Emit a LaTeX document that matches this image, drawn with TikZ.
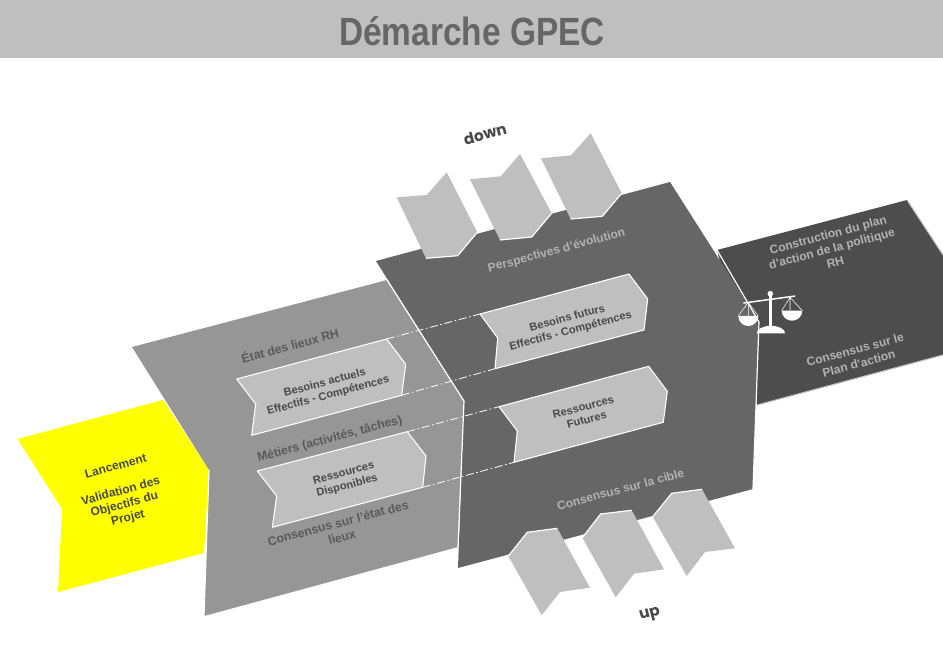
\documentclass[tikz,border=0pt]{standalone}
\usepackage{fontspec}
\setmainfont{Liberation Sans}
\newfontfamily\titlefont[FakeStretch=0.85]{Liberation Sans}
\newfontfamily\updownfont{Poppins}
\usepackage{xcolor}
\usetikzlibrary{positioning}
\definecolor{bandgray}{RGB}{191,191,191}
\definecolor{midgray}{RGB}{150,150,150}
\definecolor{darkgray}{RGB}{102,102,102}
\definecolor{deepgray}{RGB}{77,77,77}
\definecolor{inkgray}{RGB}{72,72,72}
\definecolor{midink}{RGB}{89,89,89}
\definecolor{lablight}{RGB}{179,179,179}
\definecolor{startyellow}{RGB}{255,255,0}

\begin{document}
\begin{tikzpicture}[x=0.75pt,y=-0.75pt,font=\bfseries\fontsize{8.3}{9.8}\selectfont,
  tab/.style={fill=bandgray},
  panel/.style={fill=bandgray,draw=white,line width=0.8pt,line join=round},
  edge/.style={draw=white,line width=0.9pt,line join=round},
  link/.style={draw=white,line width=0.6pt,dash pattern=on 6pt off 2pt on 1.2pt off 2pt},
  lab/.style={align=center,rotate=15,inner sep=0pt},
  onpanel/.style={lab,text=inkgray},
  onstart/.style={lab,text=inkgray,font=\bfseries\fontsize{9}{10.4}\selectfont},
  onmid/.style={lab,text=midink,font=\bfseries\fontsize{9.2}{10.8}\selectfont},
  ondark/.style={lab,text=lablight,font=\bfseries\fontsize{9}{10.6}\selectfont}]
\useasboundingbox (0,0) rectangle (943,652);
\fill[white] (0,0) rectangle (943,652);
% TITLE
\fill[bandgray] (0,0) rectangle (943,58);
\node[inner sep=0pt,text=darkgray,font=\titlefont\bfseries\fontsize{29.5}{33}\selectfont] (title) at (472,31) {Démarche GPEC};
% BLOCKS
\fill[deepgray] (717,250) -- (907,200) -- (943,255) -- (943,355) -- (757,405) -- cycle;
\draw[bandgray,line width=0.8pt] (907,200) -- (943,255);
\draw[bandgray,line width=0.8pt] (943,355) -- (757,405);
\fill[startyellow] (17.5,439) -- (163,400) -- (209,470) -- (204,553) -- (58,592) -- (62,509) -- cycle;
\fill[darkgray] (376,261) -- (670,182) -- (759,322) -- (753,489) -- (458,568) -- (464,401) -- cycle;
\draw[edge] (717,250) -- (759,322) -- (753,489);
\fill[midgray] (132,347) -- (387,280) -- (464,401) -- (458,547) -- (204,616) -- (209,470) -- cycle;
\draw[edge] (387,280) -- (464,401) -- (458,547);
\draw[edge] (209,470) -- (204,616);
% DOWN
\fill[tab] (396.7,197.3) -- (426.7,195) -- (446.7,172.3) -- (477.3,232.3) -- (457.7,255.7) -- (426,258.3) -- cycle;
\draw[edge] (477.3,232.3) -- (457.7,255.7) -- (426,258.3);
\fill[tab] (470,179.3) -- (500.7,176.3) -- (520,154) -- (551.7,213.3) -- (531.7,237) -- (500,240) -- cycle;
\draw[edge] (551.7,213.3) -- (531.7,237) -- (500,240);
\fill[tab] (541,158.3) -- (571,155.3) -- (590.7,133.3) -- (621.7,193.3) -- (602.3,216.3) -- (570.7,219) -- cycle;
\draw[edge] (621.7,193.3) -- (602.3,216.3) -- (570.7,219);
\node[lab,text=inkgray,font=\updownfont\bfseries\fontsize{11.5}{13}\selectfont] (down) at (485,134) {down};
% UP
\fill[tab] (508.3,556) -- (527.3,532.3) -- (557.3,528.3) -- (590,587.7) -- (560,592) -- (541.7,615.3) -- cycle;
\draw[edge] (508.3,556) -- (527.3,532.3) -- (557.3,528.3);
\fill[tab] (582.3,537.7) -- (600.7,514) -- (631.7,510.3) -- (664,569.3) -- (634,573.7) -- (615.7,597.3) -- cycle;
\draw[edge] (582.3,537.7) -- (600.7,514) -- (631.7,510.3);
\fill[tab] (652.7,516.7) -- (671.7,493.3) -- (702,489.3) -- (735,548.3) -- (705,552) -- (686.7,576) -- cycle;
\draw[edge] (652.7,516.7) -- (671.7,493.3) -- (702,489.3);
\node[lab,text=inkgray,font=\updownfont\bfseries\fontsize{11.5}{13}\selectfont] (up) at (650,615) {up};
% INNER PANELS
\draw[panel] (236.7,379) -- (386.7,339) coordinate (actTop) -- (405.7,364.3) -- (401.7,395.3) coordinate (actBot) -- (251.7,435.3) -- (255.7,404) -- cycle;
\draw[panel] (257.3,471) -- (407.3,431.7) coordinate (dispTop) -- (426,456) -- (422.7,487.3) coordinate (dispBot) -- (272.3,527.3) -- (276.7,496) -- cycle;
\draw[panel] (480,314) coordinate (futTop) -- (629,274) -- (647.7,299) -- (644,330) -- (495,368.7) coordinate (futBot) -- (497.7,338) -- cycle;
\draw[panel] (499,406.7) coordinate (resTop) -- (648.7,366.3) -- (667.3,391.3) -- (663.3,422.3) -- (514,462.3) coordinate (resBot) -- (517.3,431) -- cycle;
\draw[link] (actTop) -- (futTop);
\draw[link] (actBot) -- (futBot);
\draw[link] (dispTop) -- (resTop);
\draw[link] (dispBot) -- (resBot);
% SCALE
\begin{scope}[white]
\fill (743.3,302.3) -- (795,295.3) -- (795,296.8) -- (743.3,303.8) -- cycle;
\fill (770.3,293.7) circle[radius=2.8];
\fill (768.6,296) rectangle (772,328);
\fill (756.7,333.3) arc[start angle=180,end angle=0,x radius=14.2,y radius=-7.5] -- cycle;
\fill (738.3,316) arc[start angle=180,end angle=0,radius=10] -- cycle;
\fill (781.7,310.7) arc[start angle=180,end angle=0,x radius=10.3,y radius=10] -- cycle;
\draw[line width=0.4pt] (738.3,316) -- (748.3,302.3) -- (758.3,316) (748.3,302.3) -- (748.3,316);
\draw[line width=0.4pt] (781.7,310.7) -- (790,297.3) -- (802.3,310.7) (790,297.3) -- (790,310.7);
\end{scope}
% LABELS
\node[onstart] (lance) at (115.7,466) {Lancement};
\node[onstart] (valid) at (124.5,505) {Validation des\\Objectifs du\\Projet};
\node[onmid] (etat) at (290,345) {État des lieux RH};
\node[onpanel] (actuels) at (326.5,389.5) {Besoins actuels\\Effectifs - Compétences};
\node[onmid] (metiers) at (329.8,439.3) {Métiers (activités, tâches)};
\node[onpanel] (dispo) at (345.5,480) {Ressources\\Disponibles};
\node[onmid] (etatcons) at (340,530) {Consensus sur l’état des\\lieux};
\node[ondark] (persp) at (556.7,250.7) {Perspectives d’évolution};
\node[onpanel] (futurs) at (569,325) {Besoins futurs\\Effectifs - Compétences};
\node[onpanel] (resfut) at (585,413.3) {Ressources\\Futures};
\node[ondark] (cible) at (620.5,489.3) {Consensus sur la cible};
\node[ondark] (constr) at (831.7,248.3) {Construction du plan\\d’action de la politique\\RH};
\node[ondark] (plan) at (857,356.7) {Consensus sur le\\Plan d’action};
\end{tikzpicture}
\end{document}
